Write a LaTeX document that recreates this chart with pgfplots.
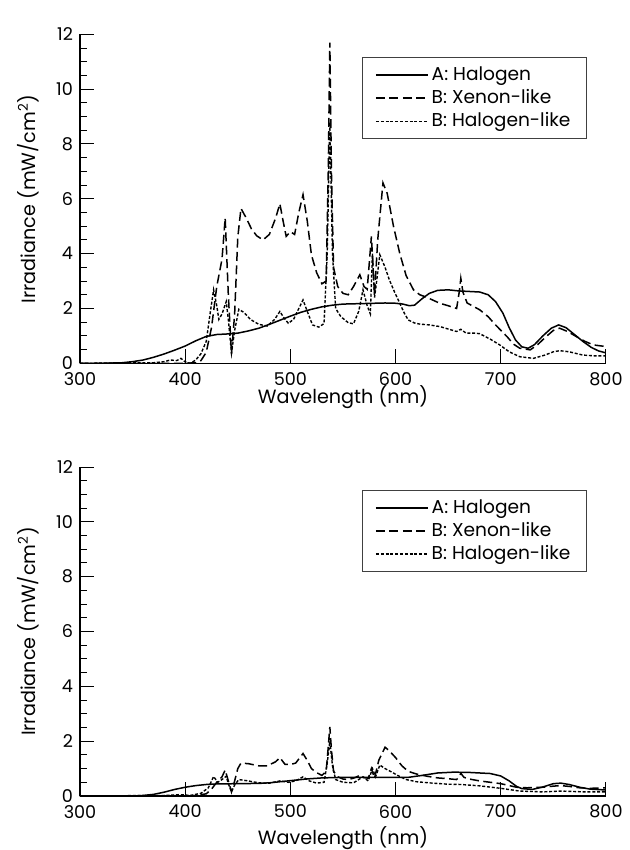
\documentclass[border=0pt]{standalone}
\usepackage{fontspec}
\setmainfont{Poppins}
\usepackage{pgfplots}
\pgfplotsset{compat=1.18}

\pgfplotsset{
  spec/.style={
    scale only axis, width=263pt, height=164.5pt,
    xmin=300, xmax=800, ymin=0, ymax=12,
    axis x line=bottom, axis y line=left,
    axis line style={-, line width=0.6pt},
    xtick={300,400,...,800}, ytick={0,2,...,12}, minor y tick num=3,
    tick align=inside, major tick length=7pt, minor tick length=3.5pt,
    tick style={line width=0.5pt, black},
    /pgf/number format/assume math mode=true,
    ticklabel style={font=\fontsize{8.8}{10}\selectfont},
    xticklabel style={yshift=-1pt},
    label style={font=\fontsize{9.6}{11}\selectfont},
    xlabel={Wavelength (nm)},
    ylabel={Irradiance (mW/cm\textsuperscript{2})},
    ylabel style={at={(axis description cs:-0.099,0.5)}, anchor=center},
    legend cell align=left,
    legend image code/.code={\draw[#1] (0pt,0pt) -- (26pt,0pt);},
    legend style={at={(1,1)}, anchor=north east, xshift=-9.5pt, yshift=-11.5pt,
      draw=black!75, line width=0.5pt, inner xsep=6.5pt, inner ysep=3pt,
      nodes={inner xsep=1.5pt, inner ysep=1.5pt},
      font=\fontsize{9.3}{11}\selectfont, row sep=0pt},
  },
  halo/.style={black, line width=0.75pt},
  xeno/.style={black, line width=0.75pt, dash pattern=on 4.5pt off 2.2pt},
  hlike/.style={black, line width=0.7pt, dash pattern=on 1.5pt off 0.9pt},
}

\begin{document}
\begin{tikzpicture}
% ---------------- panel A ----------------
\begin{axis}[spec, at={(0,0)},
  xlabel style={at={(axis description cs:0.5,0)}, anchor=center, yshift=-17pt}]
\addplot[halo] coordinates {
(300,0)(320,0)(340,0.02)(350,0.06)(360,0.12)(370,0.22)(380,0.34)(390,0.48)
(400,0.63)(410,0.82)(420,0.98)(430,1.05)(440,1.07)(450,1.1)(460,1.18)(470,1.28)
(480,1.42)(490,1.57)(500,1.72)(510,1.86)(520,1.97)(530,2.06)(540,2.12)(550,2.16)
(560,2.17)(570,2.18)(580,2.19)(590,2.2)(600,2.19)(607,2.16)(613,2.1)(618,2.12)
(625,2.35)(632,2.55)(640,2.66)(650,2.68)(660,2.64)(670,2.62)(680,2.6)(688,2.5)
(695,2.25)(702,1.83)(708,1.3)(714,0.85)(720,0.6)(726,0.55)(732,0.68)(740,1.0)
(748,1.28)(755,1.4)(762,1.3)(770,1.05)(778,0.8)(786,0.58)(793,0.45)(800,0.38)};
\addlegendentry{A: Halogen}
\addplot[xeno] coordinates {
(300,0)(400,0)(410,0.02)(415,0.1)(420,0.4)(425,1.3)(430,2.8)(435,3.8)(438,5.3)
(441,2.5)(444,0.35)(447,1.8)(450,4.6)(453,5.65)(458,5.3)(463,4.9)(468,4.65)
(474,4.5)(480,4.7)(486,5.3)(490,5.82)(493,5.2)(496,4.63)(500,4.8)(504,4.7)
(508,5.5)(512,6.15)(516,5.2)(520,3.95)(525,3.3)(530,2.9)(534,3.0)(536,7)
(537.5,11.7)(539,7)(541,3.5)(545,2.8)(550,2.55)(555,2.5)(560,2.8)(566,3.23)
(570,2.8)(573,2.7)(577,4.63)(580,2.5)(583,4.5)(588,6.58)(592,6.2)(598,5.0)
(604,4.0)(610,3.2)(617,2.68)(623,2.5)(630,2.4)(642,2.19)(650,2.1)(658,2.0)
(660.5,2.6)(662,3.1)(664,2.6)(668,2.2)(680,1.95)(688,1.7)(695,1.4)(706,0.97)
(712,0.7)(718,0.55)(728,0.49)(735,0.68)(743,0.97)(750,1.2)(756,1.28)(764,1.15)
(772,0.97)(780,0.8)(788,0.67)(800,0.61)};
\addlegendentry{B: Xenon-like}
\addplot[hlike] coordinates {
(300,0)(370,0.02)(380,0.06)(386,0.12)(392,0.1)(396,0.18)(400,0.05)(405,0)
(410,0.12)(415,0.35)(420,0.8)(424,1.9)(427,2.68)(430,2.1)(432,1.6)(435,1.8)
(439,2.25)(441,1.6)(444,0.37)(447,1.2)(451,1.97)(456,1.85)(462,1.6)(470,1.42)
(478,1.36)(485,1.6)(490,1.89)(494,1.65)(498,1.46)(503,1.6)(508,2.0)(512,2.31)
(516,1.9)(521,1.4)(527,1.32)(532,1.45)(535,4)(537.5,8.8)(540,4)(543,2.0)
(548,1.7)(555,1.48)(560,1.44)(565,1.9)(569,2.68)(573,2.1)(576,1.8)(578,4.0)
(580,2.4)(582,3.0)(585,3.96)(590,3.5)(594,3.05)(599,2.6)(604,2.19)(608,1.85)
(612,1.58)(618,1.47)(623,1.43)(632,1.4)(642,1.34)(650,1.25)(658,1.16)(662,1.24)
(667,1.1)(675,1.1)(680,1.08)(690,0.88)(699,0.67)(708,0.42)(718,0.24)(731,0.18)
(742,0.3)(750,0.42)(756,0.46)(765,0.42)(778,0.3)(790,0.27)(800,0.27)};
\addlegendentry{B: Halogen-like}
\node[anchor=south west, inner sep=0pt, font=\fontsize{8.8}{10}\selectfont]
  at (rel axis cs:0,1) [yshift=5pt] {A};
\end{axis}
% ---------------- panel B ----------------
\begin{axis}[spec, at={(0,-216.35pt)},
  xlabel style={at={(axis description cs:0.5,0)}, anchor=center, yshift=-21pt}]
\addplot[halo] coordinates {
(300,0)(350,0)(360,0.02)(370,0.06)(380,0.14)(390,0.24)(400,0.32)(410,0.38)
(420,0.42)(430,0.44)(450,0.45)(470,0.46)(480,0.48)(490,0.52)(500,0.56)(515,0.62)
(530,0.66)(550,0.68)(600,0.68)(612,0.68)(625,0.75)(640,0.84)(655,0.87)(670,0.86)
(690,0.82)(700,0.73)(708,0.55)(715,0.35)(720,0.27)(730,0.24)(740,0.33)(750,0.45)
(757,0.47)(765,0.42)(775,0.32)(785,0.25)(800,0.22)};
\addlegendentry{A: Halogen}
\addplot[xeno] coordinates {
(300,0)(400,0)(410,0.02)(420,0.08)(425,0.25)(430,0.5)(435,0.7)(438,0.95)
(441,0.55)(444,0.15)(447,0.55)(450,1.0)(453,1.2)(460,1.18)(470,1.1)(478,1.1)
(486,1.25)(490,1.4)(495,1.15)(500,1.15)(505,1.2)(512,1.55)(516,1.3)(520,1.0)
(525,0.85)(530,0.75)(534,0.9)(536,1.8)(537.5,2.52)(539,1.7)(541,0.9)(545,0.7)
(550,0.62)(555,0.6)(560,0.65)(566,0.75)(570,0.67)(574,0.65)(577,1.0)(580,0.65)
(584,1.3)(590,1.78)(594,1.65)(600,1.4)(606,1.1)(612,0.9)(620,0.8)(630,0.72)
(640,0.66)(650,0.63)(658,0.6)(660.5,0.7)(662,0.83)(665,0.68)(670,0.62)(680,0.55)
(690,0.5)(700,0.45)(708,0.38)(715,0.32)(725,0.3)(740,0.32)(750,0.36)(757,0.38)
(765,0.35)(775,0.3)(785,0.28)(800,0.3)};
\addlegendentry{B: Xenon-like}
\addplot[hlike] coordinates {
(300,0)(380,0.02)(395,0.05)(405,0.02)(415,0.1)(422,0.3)(427,0.71)(431,0.5)
(435,0.6)(439,0.72)(441,0.45)(444,0.15)(447,0.4)(451,0.6)(460,0.55)(470,0.48)
(480,0.47)(490,0.55)(498,0.5)(505,0.55)(512,0.7)(518,0.55)(525,0.47)(532,0.5)
(535,1.2)(537.5,2.0)(540,1.1)(543,0.6)(550,0.5)(560,0.48)(569,0.7)(574,0.55)
(578,1.0)(581,0.7)(585,1.13)(590,1.0)(596,0.88)(602,0.75)(610,0.6)(620,0.52)
(635,0.47)(650,0.43)(662,0.42)(680,0.37)(700,0.28)(718,0.18)(740,0.15)(757,0.18)
(780,0.15)(800,0.15)};
\addlegendentry{B: Halogen-like}
\node[anchor=south west, inner sep=0pt, font=\fontsize{8.8}{10}\selectfont]
  at (rel axis cs:0,1) [yshift=5.5pt] {B};
\end{axis}
\pgfresetboundingbox
\path[use as bounding box] (-40pt,-243.35pt) rectangle (275pt,181.65pt);
\end{tikzpicture}
\end{document}
